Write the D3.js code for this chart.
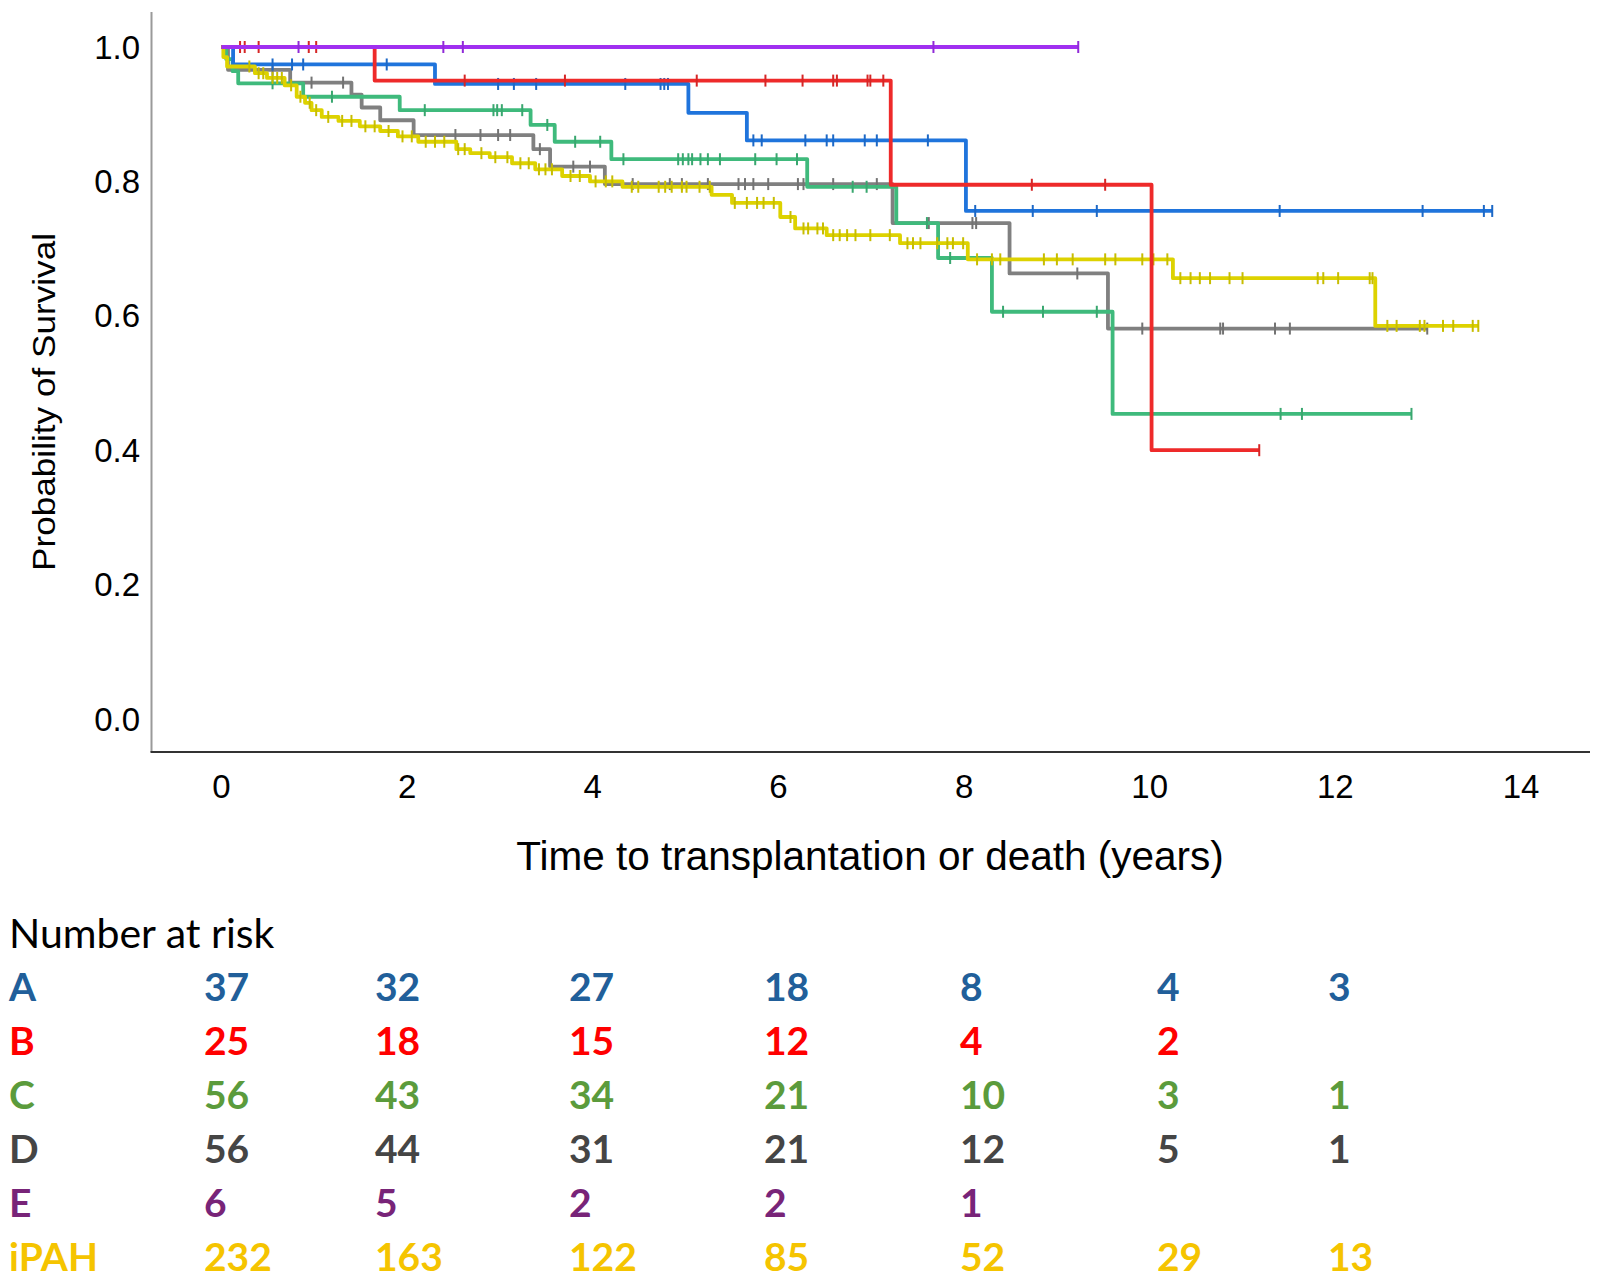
<!DOCTYPE html>
<html>
<head>
<meta charset="utf-8">
<script src="https://cdn.jsdelivr.net/npm/d3@7"></script>
<style>
  html, body { margin: 0; padding: 0; background: #ffffff; }
  svg { display: block; }
</style>
</head>
<body>
<svg id="chart" width="1605" height="1280"></svg>
<script>
// ---------------- DATA ----------------
const groups = ["A", "B", "C", "D", "E", "iPAH"];

// Kaplan-Meier step data (event times in years, survival after each step)
const timesA = [0.125, 2.30, 5.03, 5.66, 8.02];
const survA  = [0.974, 0.945, 0.902, 0.861, 0.756];
const endA = 13.69;
const censorA = [0.55, 0.76, 0.88, 1.78, 2.98, 3.15, 3.39, 4.35, 4.73, 4.77, 4.81, 5.73, 5.82, 6.29, 6.52, 6.59, 6.93, 7.06, 7.61, 8.12, 8.74, 9.43, 11.40, 12.94, 13.60, 13.69];

const timesB = [1.65, 7.21, 10.02];
const survB  = [0.950, 0.795, 0.400];
const endB = 11.18;
const censorB = [0.20, 0.25, 0.40, 0.94, 1.02, 2.62, 3.70, 5.12, 5.86, 6.26, 6.59, 6.63, 6.96, 6.99, 7.13, 8.73, 9.52, 11.18];

const timesC = [0.05, 0.12, 0.18, 0.88, 1.92, 3.33, 3.59, 4.20, 6.31, 7.27, 7.72, 8.30, 9.60];
const survC  = [0.982, 0.964, 0.946, 0.926, 0.906, 0.884, 0.859, 0.833, 0.792, 0.738, 0.686, 0.606, 0.454];
const endC = 12.82;
const censorC = [0.55, 1.19, 2.19, 2.93, 2.97, 3.02, 3.24, 3.51, 3.81, 4.08, 4.33, 4.92, 4.97, 5.03, 5.07, 5.16, 5.24, 5.37, 5.75, 5.98, 6.20, 6.80, 6.95, 7.60, 7.85, 8.42, 8.85, 9.43, 11.41, 11.64, 12.82];

const timesD = [0.07, 0.74, 1.40, 1.51, 1.71, 2.07, 3.36, 3.54, 4.13, 7.23, 8.49, 9.55];
const survD  = [0.966, 0.947, 0.929, 0.910, 0.891, 0.869, 0.848, 0.822, 0.796, 0.738, 0.663, 0.581];
const endD = 12.99;
const censorD = [0.55, 0.97, 1.31, 2.52, 2.79, 2.98, 3.11, 3.43, 3.79, 3.97, 4.43, 4.83, 4.96, 5.24, 5.57, 5.64, 5.73, 5.89, 6.21, 6.27, 6.59, 7.06, 7.62, 8.09, 8.13, 9.22, 9.92, 10.76, 10.79, 11.35, 11.51, 12.99];

const timesE = [];
const survE  = [];
const endE = 9.23;
const censorE = [0.83, 2.39, 2.60, 7.67, 9.23];

const timesI = [0.02, 0.06, 0.36, 0.49, 0.68, 0.81, 0.90, 0.97, 1.08, 1.26, 1.49, 1.71, 1.90, 2.12, 2.53, 2.68, 2.89, 3.13, 3.38, 3.67, 3.97, 4.32, 5.28, 5.50, 6.02, 6.18, 6.52, 7.31, 8.04, 10.25, 12.43];
const survI  = [0.985, 0.971, 0.961, 0.954, 0.943, 0.926, 0.917, 0.906, 0.896, 0.890, 0.882, 0.875, 0.867, 0.859, 0.848, 0.842, 0.836, 0.827, 0.818, 0.808, 0.800, 0.792, 0.780, 0.768, 0.747, 0.730, 0.720, 0.708, 0.684, 0.656, 0.585];
const endI = 13.54;
const censorI = [0.30, 0.40, 0.45, 0.55, 0.60, 0.65, 0.75, 0.85, 0.95, 1.02, 1.15, 1.30, 1.40, 1.55, 1.65, 1.80, 1.95, 2.05, 2.20, 2.30, 2.40, 2.55, 2.62, 2.80, 2.95, 3.08, 3.22, 3.31, 3.42, 3.49, 3.56, 3.76, 3.86, 4.03, 4.14, 4.21, 4.42, 4.49, 4.71, 4.78, 4.85, 4.96, 5.01, 5.15, 5.26, 5.53, 5.66, 5.77, 5.84, 5.95, 6.13, 6.27, 6.32, 6.42, 6.48, 6.59, 6.66, 6.74, 6.83, 6.99, 7.20, 7.39, 7.45, 7.53, 7.71, 7.82, 7.88, 7.99, 8.14, 8.30, 8.39, 8.86, 9.00, 9.17, 9.52, 9.63, 9.92, 10.04, 10.19, 10.33, 10.44, 10.54, 10.65, 10.86, 11.00, 11.81, 11.87, 12.03, 12.37, 12.40, 12.56, 12.66, 12.91, 12.96, 13.16, 13.27, 13.48, 13.54];

// Axis ticks
const xTicks = [0, 2, 4, 6, 8, 10, 12, 14];
const yTicks = [0.0, 0.2, 0.4, 0.6, 0.8, 1.0];

// Number at risk table
const riskTitle = "Number at risk";
const riskA = [37, 32, 27, 18, 8, 4, 3];
const riskB = [25, 18, 15, 12, 4, 2, null];
const riskC = [56, 43, 34, 21, 10, 3, 1];
const riskD = [56, 44, 31, 21, 12, 5, 1];
const riskE = [6, 5, 2, 2, 1, null, null];
const riskI = [232, 163, 122, 85, 52, 29, 13];

// ---------------- STYLE ----------------
const lineColors  = { A: "#1f74dc", B: "#ee2a2a", C: "#3fba7c", D: "#808080", E: "#a030f0", iPAH: "#ddd200" };
const tableColors = { A: "#215f9a", B: "#ff0000", C: "#5b9b3c", D: "#454545", E: "#782478", iPAH: "#f5c400" };

const series = {
  A: { t: timesA, s: survA, end: endA, c: censorA },
  B: { t: timesB, s: survB, end: endB, c: censorB },
  C: { t: timesC, s: survC, end: endC, c: censorC },
  D: { t: timesD, s: survD, end: endD, c: censorD },
  E: { t: timesE, s: survE, end: endE, c: censorE },
  iPAH: { t: timesI, s: survI, end: endI, c: censorI }
};
const risk = { A: riskA, B: riskB, C: riskC, D: riskD, E: riskE, iPAH: riskI };

const svg = d3.select("#chart");
const x = d3.scaleLinear().domain([0, 14]).range([221.5, 1521]);
const y = d3.scaleLinear().domain([0, 1]).range([719, 47]);

const axisFont = "'Liberation Sans', Arial, sans-serif";
const tableFont = "Lato, 'Open Sans', sans-serif";

// axis frame
svg.append("line").attr("x1", 151.5).attr("x2", 151.5).attr("y1", 12).attr("y2", 752)
  .attr("stroke", "#9a9a9a").attr("stroke-width", 2);
svg.append("line").attr("x1", 150.5).attr("x2", 1590).attr("y1", 752).attr("y2", 752)
  .attr("stroke", "#333333").attr("stroke-width", 2);

// y tick labels
svg.append("g").selectAll("text").data(yTicks).join("text")
  .attr("x", 140).attr("y", d => y(d))
  .attr("text-anchor", "end").attr("dominant-baseline", "central")
  .attr("font-family", axisFont).attr("font-size", 33).attr("fill", "#000")
  .text(d => d3.format(".1f")(d));

// x tick labels
svg.append("g").selectAll("text").data(xTicks).join("text")
  .attr("x", d => x(d)).attr("y", 786)
  .attr("text-anchor", "middle").attr("dominant-baseline", "central")
  .attr("font-family", axisFont).attr("font-size", 33).attr("fill", "#000")
  .text(d => d);

// axis titles
svg.append("text").attr("x", 870).attr("y", 856)
  .attr("text-anchor", "middle").attr("dominant-baseline", "central")
  .attr("font-family", axisFont).attr("font-size", 40.5).attr("fill", "#000")
  .text("Time to transplantation or death (years)");
svg.append("text")
  .attr("transform", "translate(44,402) rotate(-90)")
  .attr("text-anchor", "middle").attr("dominant-baseline", "central")
  .attr("font-family", axisFont).attr("font-size", 32).attr("fill", "#000")
  .attr("textLength", 338).attr("lengthAdjust", "spacingAndGlyphs")
  .text("Probability of Survival");

// survival step function
function survAt(sr, t) {
  let s = 1;
  for (let i = 0; i < sr.t.length; i++) if (sr.t[i] <= t) s = sr.s[i];
  return s;
}

const line = d3.line().x(d => x(d[0])).y(d => y(d[1])).curve(d3.curveStepAfter);
const drawOrder = ["D", "C", "A", "iPAH", "B", "E"];
const plot = svg.append("g");
drawOrder.forEach(g => {
  const sr = series[g];
  const pts = [[0, 1]];
  sr.t.forEach((t, i) => pts.push([t, sr.s[i]]));
  pts.push([sr.end, sr.s.length ? sr.s[sr.s.length - 1] : 1]);
  plot.append("path").datum(pts).attr("d", line)
    .attr("fill", "none").attr("stroke", lineColors[g]).attr("stroke-width", 3.8)
    .attr("stroke-linejoin", "round");
  plot.append("g").selectAll("line").data(sr.c).join("line")
    .attr("x1", d => x(d)).attr("x2", d => x(d))
    .attr("y1", d => y(survAt(sr, d)) - 6).attr("y2", d => y(survAt(sr, d)) + 6)
    .attr("stroke", d3.color(lineColors[g]).darker(0.3)).attr("stroke-width", 2);
});

// Number at risk table
const tableColX = [204, 375, 569, 764, 960, 1157, 1328];
const rowY = d3.scalePoint().domain(groups).range([986, 1256]);
svg.append("text").attr("x", 9).attr("y", 932)
  .attr("dominant-baseline", "central")
  .attr("font-family", tableFont).attr("font-size", 41).attr("fill", "#000")
  .text(riskTitle);
groups.forEach(g => {
  svg.append("text").attr("x", 9).attr("y", rowY(g))
    .attr("dominant-baseline", "central")
    .attr("font-family", tableFont).attr("font-weight", 700).attr("font-size", 39)
    .attr("fill", tableColors[g]).text(g);
  svg.append("g").selectAll("text").data(risk[g].map((v, i) => ({ v, i })).filter(d => d.v !== null)).join("text")
    .attr("x", d => tableColX[d.i]).attr("y", rowY(g))
    .attr("dominant-baseline", "central")
    .attr("font-family", tableFont).attr("font-weight", 700).attr("font-size", 39)
    .attr("fill", tableColors[g]).text(d => d.v);
});
</script>
</body>
</html>
